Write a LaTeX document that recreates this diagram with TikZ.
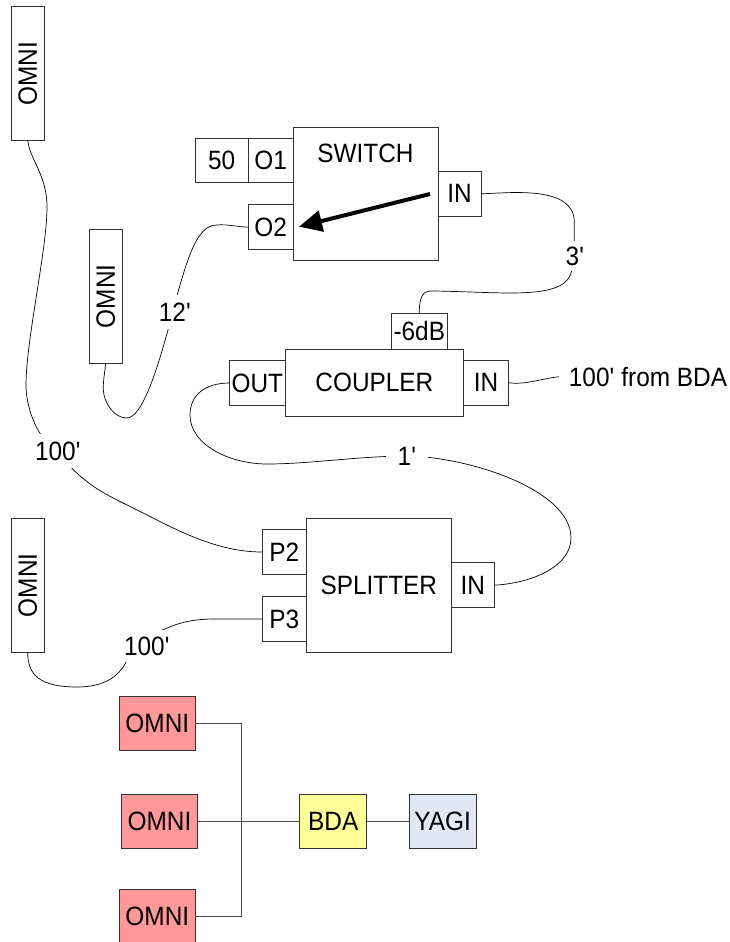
\documentclass[tikz,border=0pt]{standalone}
\usepackage{fontspec}
\setmainfont{Liberation Sans}[FakeStretch=0.92]
\usetikzlibrary{arrows.meta}
\definecolor{omnired}{HTML}{FF9999}
\definecolor{bdayellow}{HTML}{FFFF99}
\definecolor{yagiblue}{HTML}{E0E8F4}
\newcommand{\ft}{\textquotesingle}
\tikzset{every node/.style={font=\fontsize{26.5}{30}\selectfont, inner sep=0, outer sep=0}}
\tikzset{box/.style = {draw=black!80, line width=0.9pt}}
\tikzset{blk/.style = {box, fill=white, minimum width=#1, minimum height=133.5}}
\tikzset{port/.style = {box, fill=white, minimum width=#1, minimum height=44.8}}
\tikzset{mast/.style = {box, fill=white, rotate=90, minimum width=133.5, minimum height=33.5}}
\tikzset{unit/.style = {box, fill=#1, minimum width=67.2, minimum height=53.8}}
\tikzset{cable/.style = {black, line width=0.7pt}}
\tikzset{wire/.style = {black!70, line width=1pt}}
\tikzset{len/.style = {fill=white, inner xsep=#1, inner ysep=8}}
\begin{document}
\begin{tikzpicture}[x=1pt,y=-1pt]
      \useasboundingbox (0,0) rectangle (730,942);
      \node[mast] (omnia) at (27.7,73.5) {OMNI};
      \node[mast] (omnib) at (105.7,296.2) {OMNI};
      \node[mast] (omnic) at (27.7,585.3) {OMNI};
      \node[blk=145.5] (switch) at (365.7,194) {};
      \node (switchtext) at (365.5,153) {SWITCH};
      \node[port=53.5] (fifty) at (221.7,160.5) {50};
      \node[port=44.5] (oa) at (270.7,160.5) {O1};
      \node[port=44.5] (ob) at (270.7,227.2) {O2};
      \node[port=43] (swin) at (459.5,193.8) {IN};
      \node[blk=178.7, minimum height=66.7] (coupler) at (374.4,382.7) {COUPLER};
      \node[port=55.5] (coupout) at (257.3,383) {OUT};
      \node[port=44.8] (coupin) at (486.1,382.7) {IN};
      \node[port=56, minimum height=36] (tap) at (419.3,331.3) {-6dB};
      \node[blk=145] (splitter) at (378.8,585.3) {SPLITTER};
      \node[port=42.7] (splin) at (472.7,585.2) {IN};
      \node[port=44.3] (pb) at (284.2,552) {P2};
      \node[port=44.3] (pc) at (284.2,618.9) {P3};
      \node[unit=omnired, minimum width=75.5] (reda) at (157.3,723.3) {OMNI};
      \node[unit=omnired, minimum width=76] (redb) at (159.5,821.1) {OMNI};
      \node[unit=omnired, minimum width=75.5] (redc) at (157.3,916.8) {OMNI};
      \node[unit=bdayellow] (bda) at (333.2,821.1) {BDA};
      \node[unit=yagiblue] (yagi) at (442.6,821.1) {YAGI};
      \node[inner sep=10pt] (frombda) at (648,376.7) {100\ft{} from BDA};
      \coordinate (bustop) at (241.7,723.3);
      \coordinate (busbot) at (241.7,916.8);
      \coordinate (armfrom) at (430,194);
      \coordinate (armto) at (299,226.7);
      \draw[cable] (omnia.west) .. controls (30,160) and (47,175) .. (47,207)
        .. controls (47,250) and (26,340) .. (26,385)
        .. controls (26,405) and (34,425) .. (41.7,436)
        .. controls (52,452) and (60,458) .. (71.7,468)
        .. controls (88,485) and (105,494) .. (123,503)
        .. controls (165,523) and (210,552) .. (pb.west);
      \draw[cable] (omnib.west) .. controls (105,372) and (103,380) .. (103.3,390)
        .. controls (104,403) and (114,418) .. (126.7,418)
        .. controls (142,418) and (157,370) .. (168,330)
        .. controls (186,260) and (196,225) .. (216.7,225)
        .. controls (228,224) and (238,227) .. (ob.west);
      \draw[cable] (swin.east) .. controls (510,193) and (574,185) .. (574.3,222)
        .. controls (574,250) and (575,262) .. (570.7,274)
        .. controls (565,290) and (540,293) .. (510,293)
        .. controls (490,293) and (450,291) .. (430,291)
        .. controls (424,291) and (419,296) .. (tap.north);
      \draw[cable] (coupin.east) .. controls (525,385) and (540,379) .. (frombda.west);
      \draw[cable] (coupout.west) .. controls (205,383) and (190,395) .. (190,415)
        .. controls (190,445) and (230,464) .. (267,464)
        .. controls (310,464) and (360,456) .. (407,456)
        .. controls (470,457) and (571,490) .. (571,538)
        .. controls (571,565) and (535,583) .. (splin.east);
      \draw[cable] (omnic.west) .. controls (27.5,675) and (40,687) .. (77,687)
        .. controls (105,687) and (118,676) .. (125,664)
        .. controls (137,645) and (150,634) .. (165,629)
        .. controls (180,622) and (195,619) .. (215,619)
        -- (pc.west);
      \node[len=0pt] (lena) at (58,451) {100\ft};
      \node[len=1pt, inner ysep=8] (lenb) at (175,312) {12\ft};
      \node[len=2pt, inner ysep=6] (lenc) at (575,256) {3\ft};
      \node[len=12pt] (lend) at (407,456) {1\ft};
      \node[len=0pt, inner ysep=7] (lene) at (147,646) {100\ft};
      \draw[line width=4pt, -{Triangle[length=23pt,width=21pt]}] (armfrom) -- (armto);
      \draw[wire] (reda.east) -- (bustop) -- (busbot) -- (redc.east);
      \draw[wire] (redb.east) -- (bda.west);
      \draw[wire] (bda.east) -- (yagi.west);
    \end{tikzpicture}
\end{document}
